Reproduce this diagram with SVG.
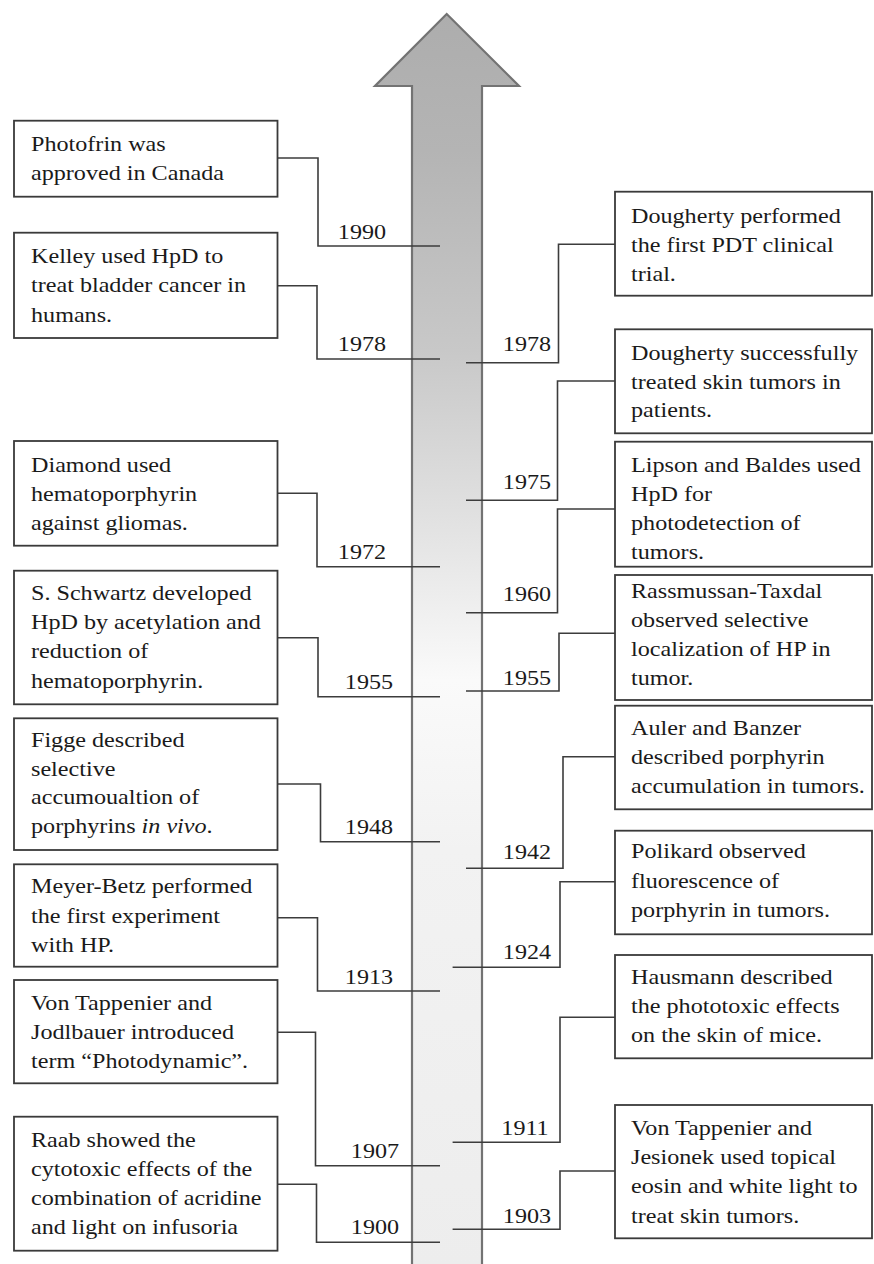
<svg xmlns="http://www.w3.org/2000/svg" width="874" height="1264" viewBox="0 0 874 1264">
<style>
.box{fill:#fff;stroke:#3a3a3a;stroke-width:1.8}
.t{font-size:21px;fill:#1a1a1a}
.y{font-size:21px;fill:#1a1a1a;text-anchor:middle}
.c{fill:none;stroke:#3c3c3c;stroke-width:1.6}
</style>
<defs>
<linearGradient id="shaft" gradientUnits="userSpaceOnUse" x1="0" y1="14" x2="0" y2="1264">
<stop offset="0" stop-color="#adadad"/>
<stop offset="0.109" stop-color="#b4b4b4"/>
<stop offset="0.269" stop-color="#c8c8c8"/>
<stop offset="0.429" stop-color="#e6e6e6"/>
<stop offset="0.533" stop-color="#fafafa"/>
<stop offset="0.669" stop-color="#f2f2f2"/>
<stop offset="1" stop-color="#ededed"/>
</linearGradient>
</defs>
<rect width="874" height="1264" fill="#fff"/>
<g id="arrow">
<path d="M412,1272 L412,86 L375,86 L446.7,14 L519,86 L482,86 L482,1272 Z" fill="url(#shaft)" stroke="#737373" stroke-width="2.2" stroke-linejoin="miter"/>
</g>
<g id="connectors">
<path class="c" d="M277.5,158 H318 V246 H440"/>
<path class="c" d="M277.5,285.7 H317 V359 H440"/>
<path class="c" d="M277.5,493.3 H317 V566.7 H440"/>
<path class="c" d="M277.5,637.7 H318 V696.7 H440"/>
<path class="c" d="M277.5,784 H320.5 V841.7 H440"/>
<path class="c" d="M277.5,917.7 H317.5 V991 H440"/>
<path class="c" d="M277.5,1032.3 H315.5 V1165.7 H440"/>
<path class="c" d="M277.5,1184.3 H316.5 V1242.3 H440"/>
<path class="c" d="M615,244.3 H558.5 V362.7 H466"/>
<path class="c" d="M615,381 H557.5 V500.3 H466"/>
<path class="c" d="M615,509 H557.5 V612.7 H466"/>
<path class="c" d="M615,633.3 H559 V691 H466"/>
<path class="c" d="M615,756.7 H563 V868.3 H466"/>
<path class="c" d="M615,881.7 H560 V967.3 H452.6"/>
<path class="c" d="M615,1017.3 H560 V1142.3 H452.6"/>
<path class="c" d="M615,1171 H560 V1229.3 H452.6"/>
</g>
<g font-family="'Liberation Serif', 'Times New Roman', serif">
<g id="years">
<text class="y" transform="translate(362 238.5) scale(1.15 1)">1990</text>
<text class="y" transform="translate(362 350.5) scale(1.15 1)">1978</text>
<text class="y" transform="translate(362 559) scale(1.15 1)">1972</text>
<text class="y" transform="translate(369 688.5) scale(1.15 1)">1955</text>
<text class="y" transform="translate(369 833.5) scale(1.15 1)">1948</text>
<text class="y" transform="translate(369 983.5) scale(1.15 1)">1913</text>
<text class="y" transform="translate(375 1158) scale(1.15 1)">1907</text>
<text class="y" transform="translate(375 1233.5) scale(1.15 1)">1900</text>
<text class="y" transform="translate(527 350.5) scale(1.15 1)">1978</text>
<text class="y" transform="translate(527 488.5) scale(1.15 1)">1975</text>
<text class="y" transform="translate(527 600.5) scale(1.15 1)">1960</text>
<text class="y" transform="translate(527 685) scale(1.15 1)">1955</text>
<text class="y" transform="translate(527 858.5) scale(1.15 1)">1942</text>
<text class="y" transform="translate(527 958.5) scale(1.15 1)">1924</text>
<text class="y" transform="translate(525 1135) scale(1.15 1)">1911</text>
<text class="y" transform="translate(527 1223) scale(1.15 1)">1903</text>
</g>
<g id="n1990">
<rect class="box" x="14" y="120.7" width="263.5" height="76"/>
<g transform="translate(31 0) scale(1.15 1)">
<text class="t" y="150.7">Photofrin was</text>
<text class="t" y="180">approved in Canada</text>
</g>
</g>
<g id="n1978L">
<rect class="box" x="14" y="232.7" width="263.5" height="105.3"/>
<g transform="translate(31 0) scale(1.15 1)">
<text class="t" y="263.3">Kelley used HpD to</text>
<text class="t" y="292.3">treat bladder cancer in</text>
<text class="t" y="321.7">humans.</text>
</g>
</g>
<g id="n1972">
<rect class="box" x="14" y="441" width="263.5" height="104.7"/>
<g transform="translate(31 0) scale(1.15 1)">
<text class="t" y="471.7">Diamond used</text>
<text class="t" y="501">hematoporphyrin</text>
<text class="t" y="530">against gliomas.</text>
</g>
</g>
<g id="n1955L">
<rect class="box" x="14" y="570.7" width="263.5" height="133.6"/>
<g transform="translate(31 0) scale(1.15 1)">
<text class="t" y="600">S. Schwartz developed</text>
<text class="t" y="629">HpD by acetylation and</text>
<text class="t" y="658">reduction of</text>
<text class="t" y="688">hematoporphyrin.</text>
</g>
</g>
<g id="n1948">
<rect class="box" x="14" y="718.3" width="263.5" height="131.7"/>
<g transform="translate(31 0) scale(1.15 1)">
<text class="t" y="746.7">Figge described</text>
<text class="t" y="775.7">selective</text>
<text class="t" y="804.3">accumoualtion of</text>
<text class="t" y="833.3">porphyrins <tspan font-style="italic">in vivo</tspan>.</text>
</g>
</g>
<g id="n1913">
<rect class="box" x="14" y="864.3" width="263.5" height="102.4"/>
<g transform="translate(31 0) scale(1.15 1)">
<text class="t" y="893.3">Meyer-Betz performed</text>
<text class="t" y="922.7">the first experiment</text>
<text class="t" y="951.7">with HP.</text>
</g>
</g>
<g id="n1907">
<rect class="box" x="14" y="980" width="263.5" height="103.3"/>
<g transform="translate(31 0) scale(1.15 1)">
<text class="t" y="1010">Von Tappenier and</text>
<text class="t" y="1039">Jodlbauer introduced</text>
<text class="t" y="1067.7">term “Photodynamic”.</text>
</g>
</g>
<g id="n1900">
<rect class="box" x="14" y="1116.7" width="263.5" height="134"/>
<g transform="translate(31 0) scale(1.15 1)">
<text class="t" y="1146.7">Raab showed the</text>
<text class="t" y="1176">cytotoxic effects of the</text>
<text class="t" y="1205">combination of acridine</text>
<text class="t" y="1234">and light on infusoria</text>
</g>
</g>
<g id="n1978R">
<rect class="box" x="615" y="191.7" width="257" height="104"/>
<g transform="translate(631 0) scale(1.15 1)">
<text class="t" y="222.7">Dougherty performed</text>
<text class="t" y="252">the first PDT clinical</text>
<text class="t" y="281">trial.</text>
</g>
</g>
<g id="n1975">
<rect class="box" x="615" y="329.3" width="257" height="104"/>
<g transform="translate(631 0) scale(1.15 1)">
<text class="t" y="360">Dougherty successfully</text>
<text class="t" y="388.7">treated skin tumors in</text>
<text class="t" y="417">patients.</text>
</g>
</g>
<g id="n1960">
<rect class="box" x="615" y="441.7" width="257" height="125"/>
<g transform="translate(631 0) scale(1.15 1)">
<text class="t" y="471.7">Lipson and Baldes used</text>
<text class="t" y="501">HpD for</text>
<text class="t" y="530">photodetection of</text>
<text class="t" y="559.3">tumors.</text>
</g>
</g>
<g id="n1955R">
<rect class="box" x="615" y="575" width="257" height="125"/>
<g transform="translate(631 0) scale(1.15 1)">
<text class="t" y="598">Rassmussan-Taxdal</text>
<text class="t" y="627.5">observed selective</text>
<text class="t" y="656">localization of HP in</text>
<text class="t" y="685">tumor.</text>
</g>
</g>
<g id="n1942">
<rect class="box" x="615" y="705.7" width="257" height="103.6"/>
<g transform="translate(631 0) scale(1.15 1)">
<text class="t" y="735">Auler and Banzer</text>
<text class="t" y="764">described porphyrin</text>
<text class="t" y="792.7">accumulation in tumors.</text>
</g>
</g>
<g id="n1924">
<rect class="box" x="615" y="830.7" width="257" height="103.6"/>
<g transform="translate(631 0) scale(1.15 1)">
<text class="t" y="858.3">Polikard observed</text>
<text class="t" y="887.7">fluorescence of</text>
<text class="t" y="916.7">porphyrin in tumors.</text>
</g>
</g>
<g id="n1911">
<rect class="box" x="615" y="955" width="257" height="103.3"/>
<g transform="translate(631 0) scale(1.15 1)">
<text class="t" y="984.3">Hausmann described</text>
<text class="t" y="1013.3">the phototoxic effects</text>
<text class="t" y="1041.7">on the skin of mice.</text>
</g>
</g>
<g id="n1903">
<rect class="box" x="615" y="1105" width="257" height="133.3"/>
<g transform="translate(631 0) scale(1.15 1)">
<text class="t" y="1135">Von Tappenier and</text>
<text class="t" y="1164">Jesionek used topical</text>
<text class="t" y="1192.7">eosin and white light to</text>
<text class="t" y="1222.7">treat skin tumors.</text>
</g>
</g>
</g>
</svg>
